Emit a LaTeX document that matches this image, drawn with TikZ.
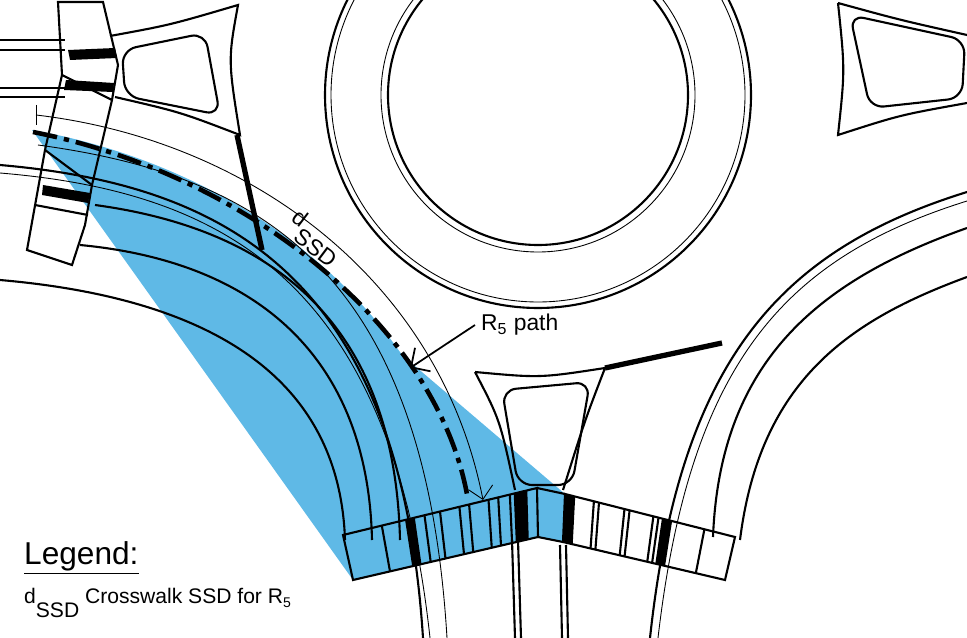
\documentclass[tikz,border=0pt]{standalone}
\usepackage{fontspec}
\setmainfont{Liberation Sans}
\usetikzlibrary{calc,arrows.meta}
\definecolor{ssdblue}{RGB}{95,185,230}
\tikzset{road/.style={draw,line width=1.2pt},
         thinroad/.style={draw,line width=0.5pt},
         bar/.style={fill=black},
         rpath/.style={line width=2.6pt,dash pattern=on 14pt off 4pt on 3pt off 4pt}}
\begin{document}
\begin{tikzpicture}[x=0.02cm,y=-0.02cm]
    \useasboundingbox (0,0) rectangle (967,638);
    % sight triangle
    \fill[ssdblue] (32,130) .. controls (200,160) and (330,250) .. (402,355)
        -- (565,494) -- (563,542) -- (538,537) -- (353,580) -- cycle;

    % central island
    \coordinate (ctr) at (538,95);
    \draw[road] (ctr) circle (213);
    \draw[thinroad] (ctr) circle (207);
    \draw[road] (ctr) circle (150);
    \draw[thinroad] (ctr) circle (157);

    % left approach
    \draw[road] (0,40) -- (65,40) (0,50) -- (65,50) (0,88) -- (65,88) (0,97) -- (65,97);
    \draw[road] (110,36) .. controls (170,25) .. (238,5)
        .. controls (228,60) .. (240,135) .. controls (180,112) .. (115,97);
    \draw[road,rounded corners=8pt] (122,50) -- (205,33) -- (220,115) -- (125,96) -- cycle;
    \draw[road] (0,165) .. controls (230,185) and (400,280) .. (423,638);
    \draw[thinroad] (0,173) .. controls (228,192) and (392,285) .. (430,638);
    \draw[road] (95,205) .. controls (280,230) and (395,330) .. (400,540);
    \draw[road] (80,245) .. controls (260,262) and (368,360) .. (372,540);
    \draw[road] (0,280) .. controls (230,300) and (340,390) .. (345,540);
    \draw[thinroad] (38,145) .. controls (260,175) and (425,270) .. (447,638);
    \draw[line width=3pt] (237,135) -- (262,250);

    % left crosswalk
    \draw[road] (58,2) -- (103,2) -- (118,65) -- (112,100) -- (92,185) -- (85,225)
        -- (72,265) -- (27,250) -- (45,150) -- (62,75) -- cycle;
    \draw[road] (62,75) -- (112,100) (45,150) -- (92,185) (35,205) -- (88,215);
    \fill[bar] (68,50) -- (115,48) -- (117,58) -- (70,60) -- cycle;
    \fill[bar] (66,80) -- (114,83) -- (113,92) -- (64,90) -- cycle;
    \fill[bar] (43,185) -- (90,193) -- (88,203) -- (42,195) -- cycle;

    % middle splitter island
    \draw[road] (475,372) .. controls (540,378) .. (605,368)
        .. controls (585,420) .. (563,490) (515,490) .. controls (500,420) .. (475,372);
    \draw[road,rounded corners=8pt] (502,390) -- (590,382) -- (572,485) -- (518,485) -- cycle;
    \draw[road] (512,540) -- (515,638) (518,540) -- (521,638)
        (560,545) -- (562,638) (566,545) -- (568,638);
    \draw[line width=3pt] (605,368) -- (722,343);

    % right approach
    \draw[road] (838,3) .. controls (900,20) .. (967,35)
        (967,103) .. controls (900,115) .. (838,135) .. controls (845,70) .. (838,3);
    \draw[road,rounded corners=8pt] (850,15) -- (965,40) -- (962,98) -- (870,108) -- cycle;
    \draw[road] (967,192) .. controls (780,250) and (680,360) .. (650,638);
    \draw[thinroad] (967,201) .. controls (785,258) and (690,362) .. (658,638);
    \draw[road] (967,228) .. controls (820,280) and (720,360) .. (713,537);
    \draw[road] (967,277) .. controls (850,320) and (760,380) .. (740,540);

    % crosswalks at bottom
    \coordinate (A) at (343,535); \coordinate (B) at (537,488);
    \coordinate (C) at (538,537); \coordinate (D) at (353,580);
    \coordinate (E) at (565,494); \coordinate (F) at (735,537);
    \coordinate (G) at (563,542); \coordinate (H) at (725,580);
    \draw[road] (A) -- (B) -- (C) -- (D) -- cycle;
    \draw[road] (B) -- (E) (C) -- (G);
    \draw[road] (E) -- (F) -- (H) -- (G) -- cycle;
    \foreach \t in {0.2,0.42,0.5,0.6,0.65,0.75,0.8,0.86}
        \draw[road] ($(A)!\t!(B)$) -- ($(D)!\t!(C)$);
    \foreach \t/\u in {0.32/0.37,0.88/0.95}
        \fill[bar] ($(A)!\t!(B)$) -- ($(A)!\u!(B)$) -- ($(D)!\u!(C)$) -- ($(D)!\t!(C)$) -- cycle;
    \foreach \t in {0.17,0.2,0.35,0.38,0.52,0.55,0.82}
        \draw[road] ($(E)!\t!(F)$) -- ($(G)!\t!(H)$);
    \foreach \t/\u in {0/0.06,0.57/0.63}
        \fill[bar] ($(E)!\t!(F)$) -- ($(E)!\u!(F)$) -- ($(G)!\u!(H)$) -- ($(G)!\t!(H)$) -- cycle;

    % sight distance and path
    \draw[thinroad] (36,105) -- (36,125);
    \draw[thinroad,-{Straight Barb[length=7pt]}] (36,115) .. controls (250,140) and (440,280) .. (483,500);
    \draw[rpath] (33,132) .. controls (250,175) and (440,330) .. (468,500);
    \node[rotate=-37,font=\fontsize{13}{13}\selectfont] (dssd) at (315,238) {d\raisebox{-1.2ex}{SSD}};
    \node[anchor=west,font=\fontsize{13}{13}\selectfont] (rfive) at (475,325) {R\textsubscript{5} path};
    \draw[line width=1pt,-{Straight Barb[length=8pt]}] (rfive.west) -- (410,368);

    % legend
    \node[anchor=west,font=\fontsize{18}{18}\selectfont] (leg) at (18,558) {\underline{Legend:}};
    \node[anchor=west,font=\fontsize{12}{12}\selectfont] (legtext) at (18,603)
        {d\raisebox{-1.2ex}{SSD} Crosswalk SSD for R\textsubscript{5}};
\end{tikzpicture}
\end{document}
